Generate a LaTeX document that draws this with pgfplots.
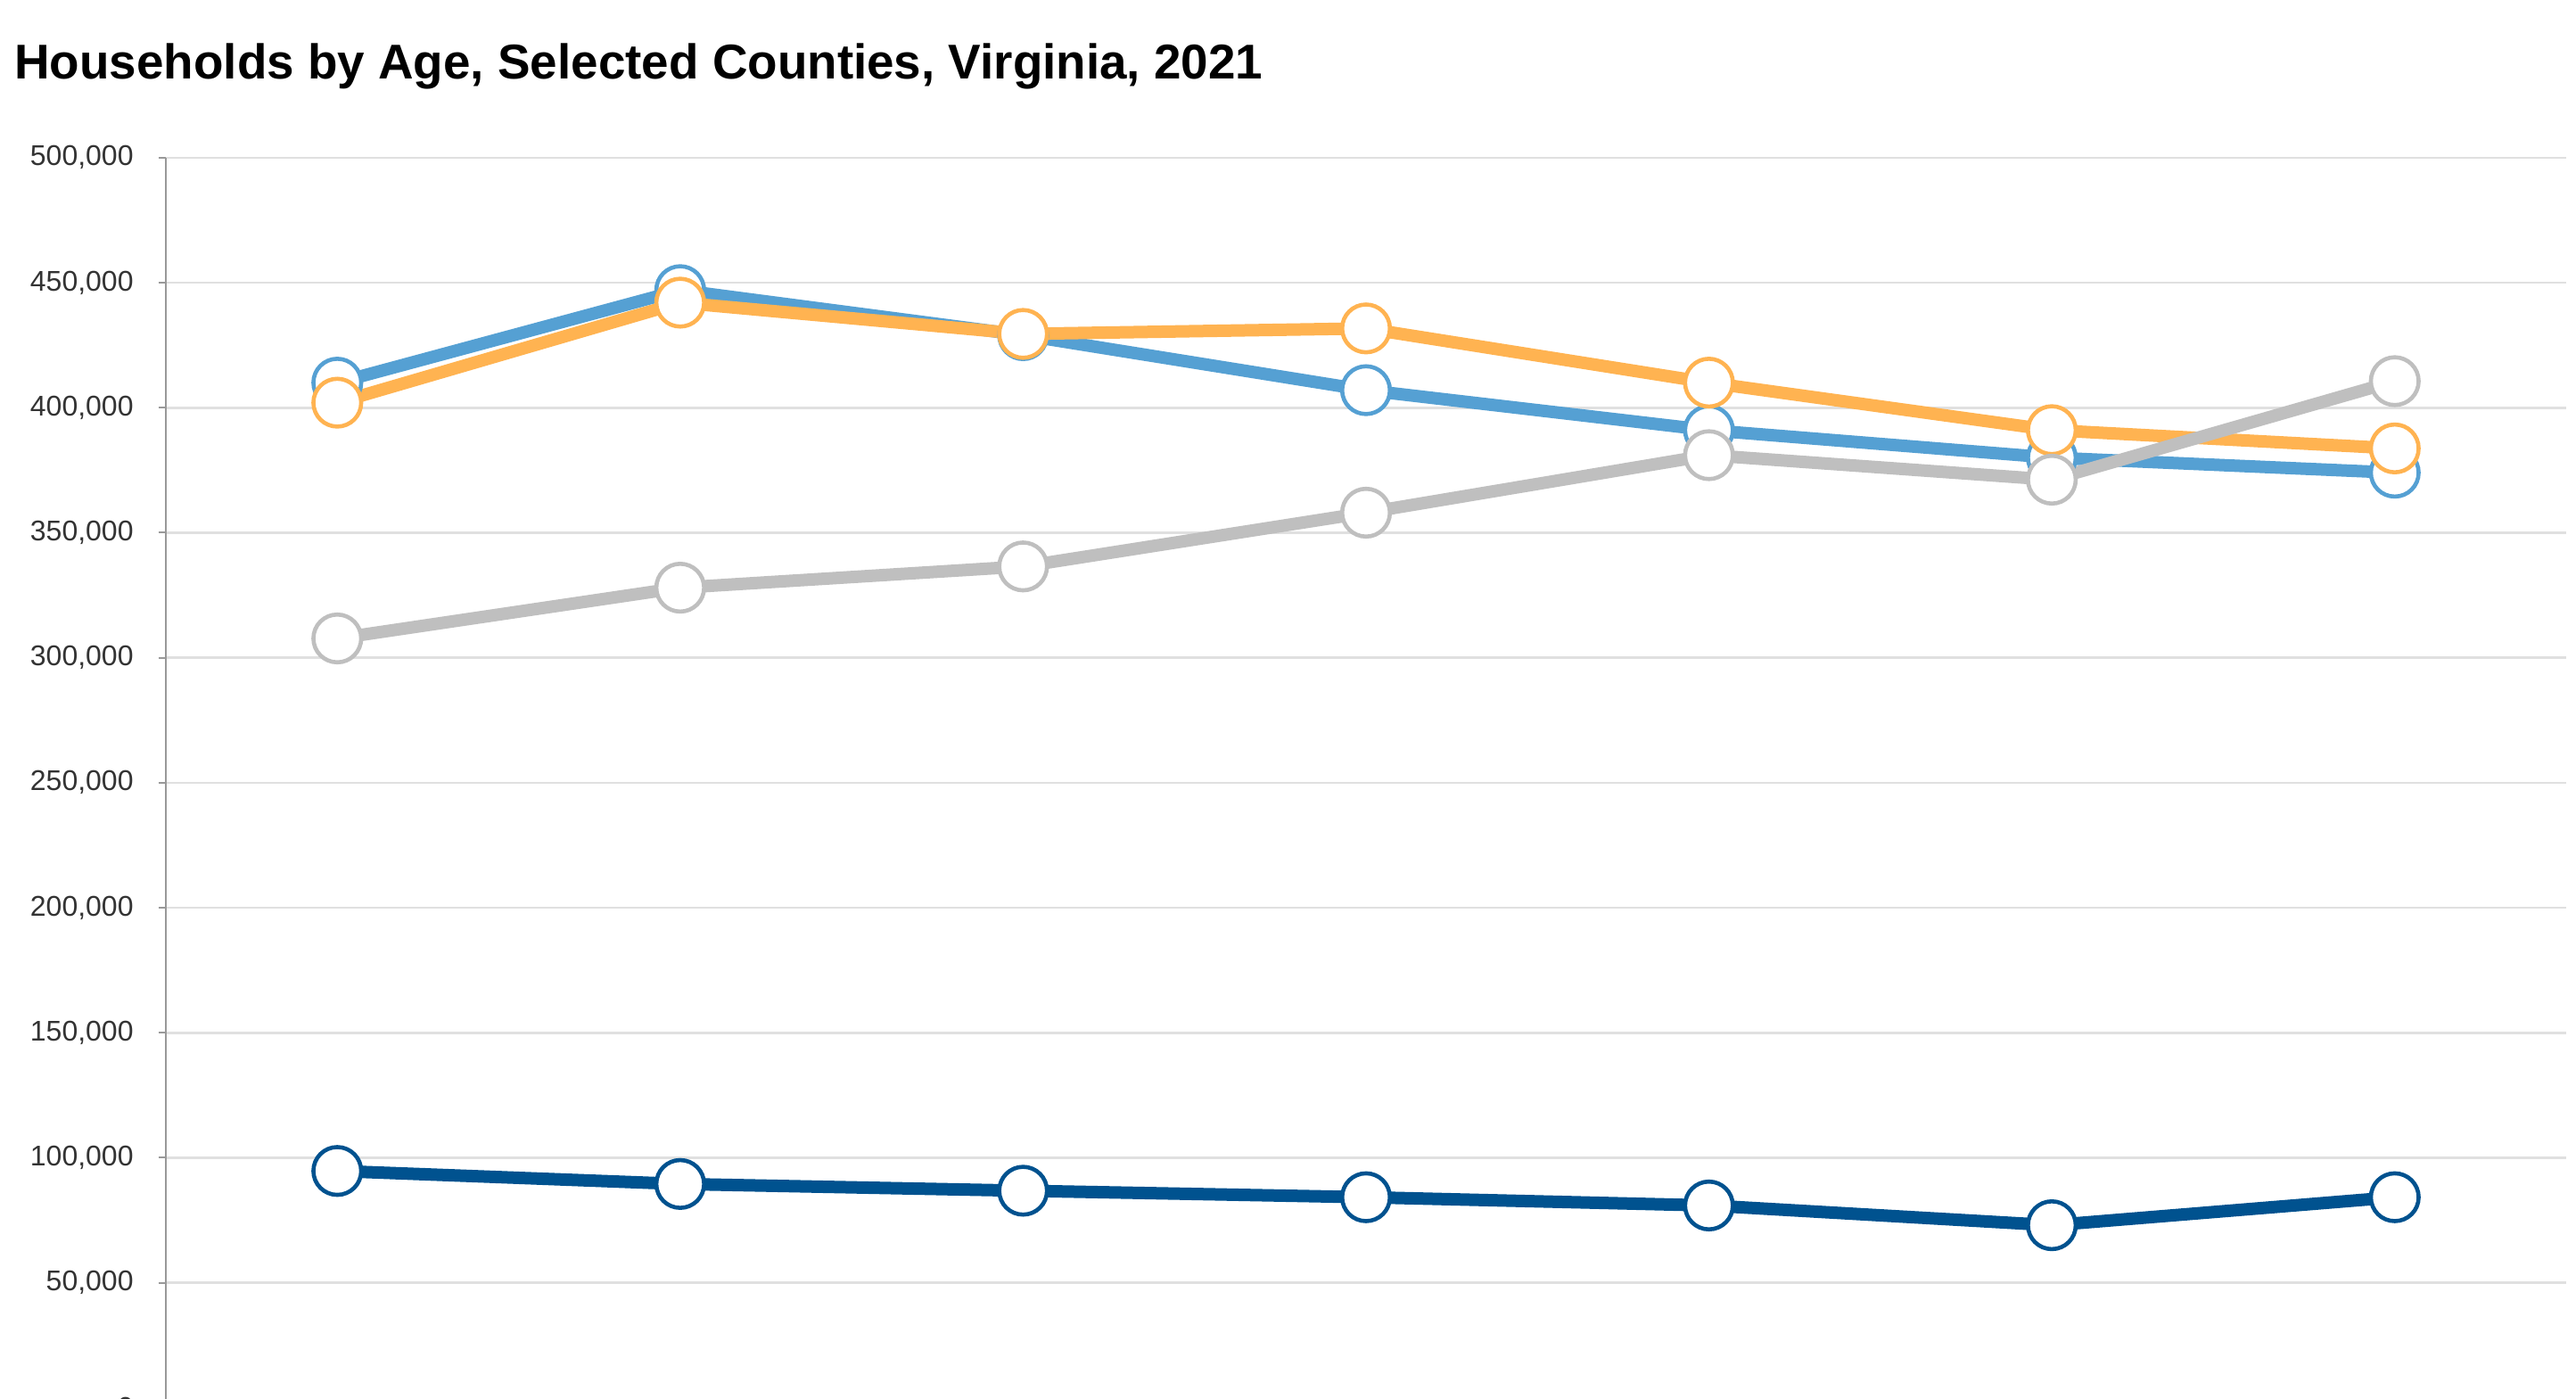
\documentclass[border=0pt]{standalone}
\usepackage{pgfplots}
\pgfplotsset{compat=1.18}
\usepackage{fontspec}
\setmainfont{Liberation Sans}
\definecolor{cLight}{RGB}{85,160,211}
\definecolor{cOrange}{RGB}{255,179,81}
\definecolor{cGray}{RGB}{191,191,191}
\definecolor{cDark}{RGB}{0,82,143}
\definecolor{cGrid}{RGB}{224,224,224}
\definecolor{cAxis}{RGB}{153,153,153}
\definecolor{cText}{RGB}{51,51,51}
\begin{document}
\begin{tikzpicture}
\node[anchor=base west, inner sep=0pt, font=\fontsize{13.7}{16}\selectfont\bfseries] at (3.9pt,-22.2pt) {Households by Age, Selected Counties, Virginia, 2021};
\begin{axis}[
  at={(46.5pt,-394.7pt)}, anchor=south west,
  scale only axis, width=673pt, height=350.5pt,
  xmin=-0.5, xmax=6.5, ymin=0, ymax=500000,
  axis x line=none,
  axis y line*=left,
  axis line style={-, cAxis, line width=0.5pt},
  ytick={0,50000,...,500000},
  scaled y ticks=false,
  /pgf/number format/fixed,
  /pgf/number format/1000 sep={,},
  /pgf/number format/assume math mode=true,
  tick label style={font=\fontsize{8}{9}\selectfont, text=cText},
  yticklabel style={inner sep=0pt, xshift=-6.9pt},
  tick align=outside, major tick length=2pt,
  tick style={cAxis, line width=0.5pt},
  ymajorgrids, grid style={cGrid, line width=0.65pt},
  every axis plot/.append style={line width=3.5pt, mark=*, mark size=6.7pt,
     mark options={fill=white, line width=1.15pt}},
  clip=false,
]
\addplot[cDark] coordinates {(0,94700) (1,89500) (2,86800) (3,84200) (4,80900) (5,73000) (6,84200)};
\addplot[cLight] coordinates {(0,410000) (1,447000) (2,429000) (3,407000) (4,391000) (5,380000) (6,374000)};
\addplot[cOrange] coordinates {(0,402000) (1,442000) (2,429500) (3,431700) (4,410000) (5,391000) (6,383700)};
\addplot[cGray] coordinates {(0,307700) (1,328000) (2,336500) (3,358000) (4,381000) (5,371200) (6,410600)};
\end{axis}
\pgfresetboundingbox
\path[use as bounding box] (0,0) rectangle (722.25pt,-392.25pt);
\end{tikzpicture}
\end{document}
